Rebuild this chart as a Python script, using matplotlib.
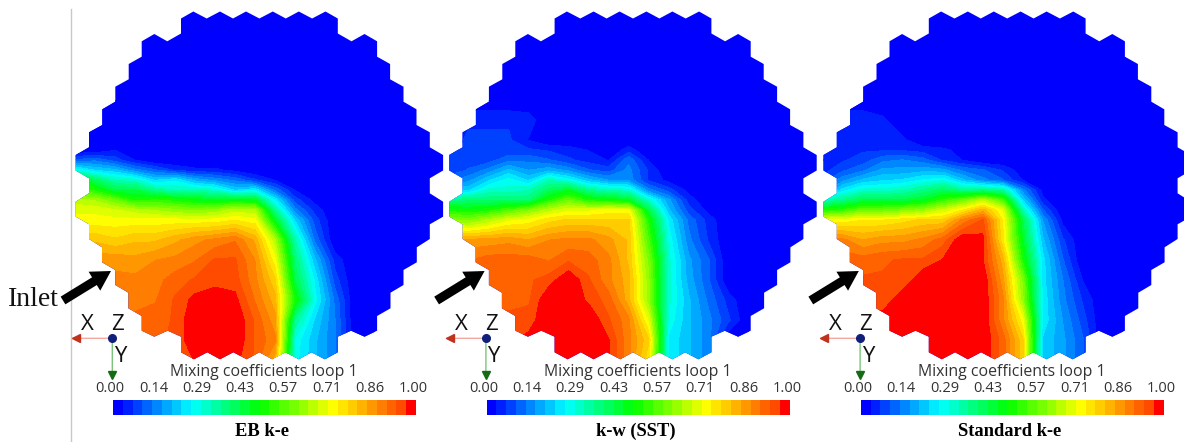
#!/usr/bin/env python3
"""Mixing coefficient contours on the hexagonal core for three turbulence models."""

import numpy as np
import matplotlib
matplotlib.use('Agg')
import matplotlib.pyplot as plt
from matplotlib.colors import LinearSegmentedColormap, ListedColormap, BoundaryNorm
from matplotlib.patches import Polygon, FancyArrowPatch

# Sample grid, in picture pixels of the left panel
GRID_X = [75, 95, 115, 135, 155, 175, 195, 215, 235, 255, 275, 295, 315, 335, 355, 375]
GRID_Y = [100, 120, 140, 150, 160, 170, 180, 190, 200, 210, 220, 240, 260, 280, 300, 320, 340, 360]

EB_KE = [
    [0, 0, 0, 0, 0, 0, 0, 0, 0, 0, 0, 0, 0, 0, 0, 0],
    [0, 0, 0, 0, 0, 0, 0, 0, 0, 0, 0, 0, 0, 0, 0, 0],
    [0, 0, 0, 0, 0, 0, 0, 0, 0, 0, 0, 0, 0, 0, 0, 0],
    [0, 0, .03, 0, 0, 0, 0, 0, 0, 0, 0, 0, 0, 0, 0, 0],
    [.10, .12, .08, .03, 0, 0, 0, 0, 0, 0, 0, 0, 0, 0, 0, 0],
    [.28, .22, .20, .14, .10, .06, .04, .04, .02, 0, 0, 0, 0, 0, 0, 0],
    [.50, .40, .32, .30, .22, .25, .18, .15, .12, .07, .03, 0, 0, 0, 0, 0],
    [.55, .50, .42, .42, .35, .32, .32, .30, .22, .25, .12, .03, 0, 0, 0, 0],
    [.66, .64, .58, .50, .52, .50, .47, .46, .46, .45, .25, .08, .02, 0, 0, 0],
    [.70, .70, .68, .66, .64, .62, .60, .62, .66, .65, .35, .14, .05, 0, 0, 0],
    [.72, .72, .72, .72, .72, .72, .72, .72, .74, .72, .45, .22, .08, 0, 0, 0],
    [.80, .80, .78, .80, .80, .83, .86, .88, .90, .83, .65, .33, .12, 0, 0, 0],
    [.86, .86, .86, .85, .87, .88, .90, .94, .94, .87, .72, .38, .20, .05, 0, 0],
    [.88, .88, .88, .88, .89, .92, .94, .95, .95, .88, .78, .42, .25, .08, 0, 0],
    [.88, .88, .88, .88, .90, .94, .98, 1, .98, .90, .82, .50, .27, .12, 0, 0],
    [.90, .90, .92, .92, .92, .94, 1, 1, 1, .93, .85, .35, .22, .13, 0, 0],
    [.92, .92, .93, .93, .93, .94, 1, 1, 1, .93, .88, .28, .20, .13, 0, 0],
    [.92, .92, .93, .93, .93, .94, .97, 1, .98, .93, .82, .27, .20, .13, 0, 0],
]

KW_SST = [
    [0, 0, 0, 0, 0, 0, 0, 0, 0, 0, 0, 0, 0, 0, 0, 0],
    [.06, .06, .06, .06, .05, 0, 0, 0, 0, 0, 0, 0, 0, 0, 0, 0],
    [.05, .07, .07, .07, .03, 0, 0, 0, 0, 0, 0, 0, 0, 0, 0, 0],
    [.06, .07, .07, .07, .07, .06, .05, .03, 0, .05, 0, 0, 0, 0, 0, 0],
    [.07, .08, .08, .12, .12, .10, .07, .05, .03, .12, .03, 0, 0, 0, 0, 0],
    [.07, .10, .14, .20, .16, .18, .15, .10, .08, .14, .06, 0, 0, 0, 0, 0],
    [.12, .15, .22, .27, .22, .32, .27, .20, .16, .15, .06, .02, 0, 0, 0, 0],
    [.20, .22, .30, .30, .32, .40, .45, .35, .32, .30, .14, .08, .02, 0, 0, 0],
    [.35, .38, .38, .38, .38, .50, .58, .50, .48, .45, .30, .17, .05, 0, 0, 0],
    [.50, .48, .50, .55, .60, .66, .70, .70, .72, .72, .42, .20, .08, .02, 0, 0],
    [.62, .60, .65, .70, .72, .76, .78, .78, .78, .78, .50, .25, .12, .05, 0, 0],
    [.85, .85, .85, .86, .84, .87, .88, .88, .85, .80, .55, .28, .14, .06, 0, 0],
    [.90, .90, .92, .92, .92, .90, .93, .92, .88, .80, .60, .30, .17, .10, 0, 0],
    [.92, .92, .92, .93, .93, .95, 1, .94, .88, .82, .62, .30, .18, .10, 0, 0],
    [.93, .93, .93, .93, .93, 1, 1, .96, .92, .82, .62, .30, .20, .12, .05, 0],
    [.94, .94, .94, .94, .95, 1, 1, 1, .94, .88, .70, .28, .20, .14, .07, 0],
    [.96, .96, .96, .96, .98, 1, 1, 1, .97, .88, .78, .25, .20, .14, 0, 0],
    [.96, .96, .96, .96, .98, 1, 1, 1, .97, .88, .75, .25, .20, .14, 0, 0],
]

STANDARD_KE = [
    [0, 0, 0, 0, 0, 0, 0, 0, 0, 0, 0, 0, 0, 0, 0, 0],
    [.06, .06, .06, .04, 0, 0, 0, 0, 0, 0, 0, 0, 0, 0, 0, 0],
    [.05, .06, .06, .06, .04, 0, 0, 0, 0, 0, 0, 0, 0, 0, 0, 0],
    [.05, .06, .06, .06, .06, .05, .04, .02, 0, 0, 0, 0, 0, 0, 0, 0],
    [.03, .06, .08, .12, .13, .11, .06, .03, 0, 0, 0, 0, 0, 0, 0, 0],
    [.05, .09, .12, .17, .17, .18, .17, .12, .10, .06, .01, 0, 0, 0, 0, 0],
    [.08, .15, .20, .22, .23, .26, .28, .20, .14, .10, .03, 0, 0, 0, 0, 0],
    [.12, .24, .30, .30, .32, .36, .40, .35, .36, .34, .14, .02, 0, 0, 0, 0],
    [.30, .36, .42, .42, .42, .45, .52, .58, .66, .55, .22, .04, 0, 0, 0, 0],
    [.50, .52, .58, .58, .60, .62, .68, .74, .82, .70, .32, .10, 0, 0, 0, 0],
    [.72, .72, .74, .74, .76, .78, .78, .88, .94, .74, .42, .16, .02, 0, 0, 0],
    [.88, .88, .84, .86, .86, .88, .92, 1, .98, .75, .45, .20, .07, 0, 0, 0],
    [.92, .92, .92, .93, .94, .94, .97, 1, .97, .82, .50, .24, .10, 0, 0, 0],
    [.94, .94, .94, .94, .94, 1, 1, 1, 1, .85, .60, .24, .13, .03, 0, 0],
    [.94, .94, .94, .94, 1, 1, 1, 1, 1, .88, .62, .25, .14, .06, 0, 0],
    [1, 1, 1, .99, 1, 1, 1, 1, 1, .88, .72, .25, .16, .08, 0, 0],
    [1, 1, 1, 1, 1, 1, 1, 1, 1, .92, .78, .22, .17, .10, 0, 0],
    [1, 1, 1, 1, 1, 1, 1, 1, 1, .92, .78, .22, .17, .10, 0, 0],
]

PANEL_TITLES = ['EB k-e', 'k-w (SST)', 'Standard k-e']
PANEL_FIELDS = [EB_KE, KW_SST, STANDARD_KE]
PANEL_SHIFTS = [0, 373.6, 747.8]
TICK_LABELS = ['0.00', '0.14', '0.29', '0.43', '0.57', '0.71', '0.86', '1.00']

# Left half of the core outline, from top centre round to bottom centre
CORE_CENTRE = 259.4
HALF_X = [259.4, 246, 233, 220, 206.7, 193.3, 181, 181, 167.3, 154.3, 141.7, 141.7, 128.7, 128.7,
          115.3, 115.3, 102.3, 102.3, 89, 89, 75.7, 75.7, 89, 89, 75.7, 75.7, 89, 89, 102, 102,
          115.3, 115.3, 128.3, 128.3, 141.7, 141.7, 154.3, 167.7, 181, 181, 194, 207.3, 220,
          233.3, 246.7, 259.4]
HALF_Y = [18.5, 11.5, 18.5, 11.5, 18.5, 11.5, 18.5, 33.5, 41.3, 34, 41.3, 56.7, 64, 79.3,
          86.7, 101.7, 109.3, 125, 132.3, 147.3, 155, 170.5, 178.3, 193.3, 201.7, 216.7, 224.3, 239, 247.3, 262.3,
          270, 285, 292.7, 308.3, 316, 330.7, 336.7, 330.7, 336.7, 352.3, 359.3, 352.3, 359.3,
          352.3, 359.3, 352.3]

N_BANDS = 31
BAR_LEFT, BAR_RIGHT = 113, 416
SANS = 'Open Sans'
SERIF = 'Liberation Serif'


def make_cmap():
    """Banded rainbow, the last band jumps to pure red."""
    ramp = LinearSegmentedColormap.from_list('ramp', [
        (0.0, (0, 0, 1)),
        (0.26, (0, 1, 1)),
        (0.5, (0, 1, 0)),
        (0.76, (1, 1, 0)),
        (1.0, (1, 75 / 255, 0)),
    ])
    colors = [ramp(i / (N_BANDS - 2)) for i in range(N_BANDS - 1)] + [(1, 0, 0, 1)]
    return ListedColormap(colors)


def draw_panel(ax, shift, field, title, cmap, norm, levels):
    half_x = np.array(HALF_X)
    half_y = np.array(HALF_Y)
    xs = np.concatenate([half_x, 2 * CORE_CENTRE - half_x[-2:0:-1]]) + shift
    ys = np.concatenate([half_y, half_y[-2:0:-1]])
    outline = Polygon(np.column_stack([xs, ys]), closed=True, facecolor=cmap(0),
                      edgecolor='none', zorder=1)
    ax.add_patch(outline)

    grid_x = np.array(GRID_X) + shift
    filled = ax.contourf(grid_x, GRID_Y, np.array(field), levels=levels, cmap=cmap, norm=norm, zorder=2)
    filled.set_clip_path(outline)

    # Inlet arrow
    ax.add_patch(FancyArrowPatch((63 + shift, 300.5), (111 + shift, 271),
                                 arrowstyle='simple,head_length=14,head_width=16,tail_width=6.5',
                                 mutation_scale=1, color='black', lw=0, shrinkA=0, shrinkB=0, zorder=4))

    # Axis triad
    ox, oy = 112.3 + shift, 338.3
    ax.add_patch(FancyArrowPatch((ox, oy), (72.7 + shift, oy), arrowstyle='-', color='#f4a8a0', lw=1.0,
                                 shrinkA=0, shrinkB=0, zorder=3))
    ax.add_patch(FancyArrowPatch((ox, oy), (ox, 378), arrowstyle='-', color='#7cc47c', lw=1.0,
                                 shrinkA=0, shrinkB=0, zorder=3))
    ax.plot(73 + shift + 3, oy, marker='<', color='#c0321c', ms=6, zorder=4)
    ax.plot(ox, 375, marker='v', color='#156b15', ms=6, zorder=4)
    ax.plot(ox, oy, marker='o', color='#10207a', ms=5.5, zorder=5)
    ax.text(87.7 + shift, 324, 'X', fontsize=16, family=SANS, ha='center', va='center', color='#111111')
    ax.text(118 + shift, 324, 'Z', fontsize=16, family=SANS, ha='center', va='center', color='#111111')
    ax.text(120 + shift, 356, 'Y', fontsize=16, family=SANS, ha='center', va='center', color='#111111')

    # Colour bar
    edges = np.linspace(BAR_LEFT + shift, BAR_RIGHT + shift, N_BANDS + 1)
    ax.pcolormesh(edges, [399.5, 414.7], (np.arange(N_BANDS)[None, :] + 0.5) / N_BANDS,
                  cmap=cmap, norm=norm, zorder=2)
    ax.text(264 + shift, 372, 'Mixing coefficients loop 1', fontsize=11.4, family=SANS,
            ha='center', va='center', color='#333333')
    for lab, tx in zip(TICK_LABELS, np.linspace(110, 413.3, len(TICK_LABELS))):
        ax.text(tx + shift, 388, lab, fontsize=10.5, family=SANS, ha='center', va='center', color='#333333')
    ax.text(262 + shift, 431, title, fontsize=13.3, family=SERIF, fontweight='bold',
            ha='center', va='center', color='black')


def main():
    fig = plt.figure(figsize=(11.84, 4.42), dpi=100)
    ax = fig.add_axes([0, 0, 1, 1])
    ax.set_xlim(0, 1184)
    ax.set_ylim(442, 0)
    ax.axis('off')

    levels = np.linspace(0, 1, N_BANDS + 1)
    levels[-1] = 1.001
    cmap = make_cmap()
    norm = BoundaryNorm(levels, N_BANDS)

    ax.plot([70.7, 70.7], [9, 442], color='#c8c8c8', lw=1.0, zorder=1)

    for shift, field, title in zip(PANEL_SHIFTS, PANEL_FIELDS, PANEL_TITLES):
        draw_panel(ax, shift, field, title, cmap, norm, levels)

    ax.text(8, 300, 'Inlet', fontsize=20, family=SERIF, ha='left', va='center', color='#111111')

    fig.savefig('out.png', dpi=100)
    plt.close(fig)


if __name__ == '__main__':
    main()
